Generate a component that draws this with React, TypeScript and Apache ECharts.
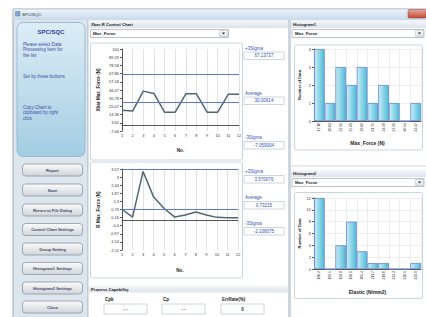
import React, { useEffect, useRef } from 'react';
import * as echarts from 'echarts';

const FONT = '"Liberation Sans", Arial, sans-serif';

const sampleNos = ['1', '2', '3', '4', '5', '6', '7', '8', '9', '10', '11', '12'];
const xbarValues = [20, 19, 45, 42, 17.5, 17.5, 41.5, 41.5, 17.5, 17.5, 41, 41];
const xbarLimits = [67.13737, 30.00914, -7.059004];
const xbarLimitLabels = ['67.13737', '30.00914', '-7.059004'];
const xbarTickLabels = ['-7.06', '3.65', '14.36', '25.07', '35.78', '46.47', '57.18', '67.86', '78.58', '89.29', '100'];
const rValues = [0.75, 0.2, 3.4, 1.6, 0.8, 0.2, 0.35, 0.55, 0.35, 0.18, 0.15, 0.15];
const rLimits = [3.570076, 0.73215, -2.108075];
const rLimitLabels = ['3.570076', '0.73215', '-2.108075'];
const rTickLabels = ['-2.11', '-1.54', '-0.97', '-0.4', '0.16', '0.73', '1.3', '1.87', '2.44', '3', '3.57'];
const hist1Bins = ['17.10', '20.03', '22.96', '25.89', '28.82', '31.75', '34.68', '37.61', '40.54', '43.47'];
const hist1Counts = [4, 1, 3, 2, 3, 1, 2, 1, 0, 1];
const hist2Bins = ['180.2', '186.5', '192.8', '199.1', '205.4', '211.7', '218.0', '224.3', '230.6', '236.9'];
const hist2Counts = [12, 0, 4, 8, 3, 1, 1, 0, 0, 1];
const menuButtons = ['Report', 'Save', 'Return to File Dialog', 'Control Chart Settings', 'Group Setting', 'Histogram1 Settings', 'Histogram2 Settings', 'Close'];
const capabilityLabels = ['Cpk', 'Cp', 'ErrRate(%)'];
const capabilityValues = ['-.--', '-.--', '0'];

const BLUE = '#2f4fc0';

export default function App() {
  const ref = useRef<HTMLDivElement>(null);
  useEffect(() => {
    if (!ref.current) return;
    const chart = echarts.init(ref.current, undefined, { renderer: 'svg' });
    let z2 = 0;
    const vgrad = (a: string, b: string) => new echarts.graphic.LinearGradient(0, 0, 0, 1, [{ offset: 0, color: a }, { offset: 1, color: b }]);
    const rect = (x: number, y: number, w: number, h: number, fill: any, stroke?: string, r = 0, lw = 0.8) => ({
      type: 'rect', silent: true, z: -5, z2: z2++,
      shape: { x, y, width: w, height: h, r },
      style: { fill, stroke: stroke || 'none', lineWidth: stroke ? lw : 0 },
    });
    const txt = (x: number, y: number, text: string, size: number, color: string, weight = 'normal', align = 'left') => ({
      type: 'text', silent: true, z: -4, z2: z2++, x, y,
      style: { text, fontSize: size, fontWeight: weight, fill: color, fontFamily: FONT, align, verticalAlign: 'middle' },
    });
    const tri = (cx: number, cy: number) => ({
      type: 'polygon', silent: true, z: -4, z2: z2++,
      shape: { points: [[cx - 1.6, cy - 1], [cx + 1.6, cy - 1], [cx, cy + 1]] },
      style: { fill: '#333' },
    });
    const headerGrad = () => vgrad('#f4f6f8', '#dde3ea');
    const g: any[] = [];
    // window
    g.push(rect(0, 0, 426, 317, '#ffffff'));
    g.push(rect(13, 9, 416, 312, '#e9eef4', '#7f93a8'));
    g.push(rect(13.5, 9.5, 413, 10.5, vgrad('#edf3f9', '#c9d9ea')));
    g.push(rect(15.5, 11.5, 4.5, 4.5, '#7fa6d4', '#5b7fa8', 0, 0.5));
    g.push(txt(22, 14.5, 'SPC/SQC', 4.3, '#333'));
    g.push(rect(408, 9.5, 18, 8.5, vgrad('#e8a898', '#c24a3a'), '#9a3a30', 1.5, 0.5));
    // left panel
    g.push(rect(14, 20, 74, 297, '#dde5ed'));
    g.push(rect(87.5, 20, 1, 297, '#a8b4c2'));
    g.push(rect(17, 22.5, 68, 134, vgrad('#dcedf6', '#a3cde2'), '#88b2cb', 6));
    g.push(txt(51, 32, 'SPC/SQC', 6, '#2b3f9b', 'bold', 'center'));
    const infoLines: [number, string][] = [[44, 'Please select Data'], [49.5, 'Processing Item for'], [55, 'the list'], [76, 'Set by these buttons'], [107, 'Copy Chart to'], [112.5, 'clipboard by right'], [118, 'click']];
    infoLines.forEach(([y, s]) => g.push(txt(23, y, s, 4.6, '#3a4fa8')));
    const btnY = [170, 190, 210, 229.5, 249, 268.5, 288, 307];
    menuButtons.forEach((b, i) => {
      g.push(rect(22.5, btnY[i] - 6, 60, 12, vgrad('#fbfbfb', '#d0d5da'), '#8d97a3', 3));
      g.push(txt(52.5, btnY[i], b, 4, '#3a4a66', 'bold', 'center'));
    });
    // main area
    g.push(rect(88.5, 20, 338, 297, '#f1f4f7'));
    g.push(rect(89, 21, 199, 296, '#ffffff'));
    g.push(rect(89, 21, 199, 7, headerGrad()));
    g.push(txt(91, 24.5, 'Xbar-R Control Chart', 4.2, '#222', 'bold'));
    g.push(rect(90.5, 29.5, 138, 8, '#fff', '#aab4c0'));
    g.push(txt(93, 33.5, 'Max_Force', 4.3, '#222', 'bold'));
    g.push(rect(219.5, 30.5, 8, 6, vgrad('#fafafa', '#dde1e5'), '#b0b8c2', 0, 0.5));
    g.push(tri(223.5, 33.6));
    g.push(rect(90.5, 43, 152, 117, '#fff', '#b9cadc', 2));
    g.push(rect(90.5, 162, 152, 116, '#fff', '#b9cadc', 2));
    const limitNames = ['+3Sigma', 'Average', '-3Sigma'];
    const xbarLabelY = [48, 93, 137.5];
    const rLabelY = [171, 197, 223];
    limitNames.forEach((n, i) => {
      g.push(txt(245, xbarLabelY[i], n, 4.5, BLUE));
      g.push(rect(244, xbarLabelY[i] + 4, 40, 7.5, '#fff', '#c2ccd8'));
      g.push(txt(264, xbarLabelY[i] + 7.8, xbarLimitLabels[i], 4.5, BLUE, 'normal', 'center'));
      g.push(txt(245, rLabelY[i], n, 4.5, BLUE));
      g.push(rect(244, rLabelY[i] + 4.5, 40, 7.5, '#fff', '#c2ccd8'));
      g.push(txt(264, rLabelY[i] + 8.3, rLimitLabels[i], 4.5, BLUE, 'normal', 'center'));
    });
    // process capability
    g.push(rect(89, 285.5, 199, 7, headerGrad()));
    g.push(txt(91, 289, 'Process Capability', 4.2, '#222', 'bold'));
    const capX = [104, 162, 221];
    capabilityLabels.forEach((c, i) => {
      g.push(txt(capX[i] + 1, 299.5, c, 4.5, '#222', 'bold'));
      g.push(rect(capX[i], 304, 43, 10, '#fff', '#c2ccd8'));
      g.push(txt(capX[i] + 21.5, 309, capabilityValues[i], 4.5, '#333', i === 2 ? 'bold' : 'normal', 'center'));
    });
    // separator + histogram panels
    g.push(rect(288, 20, 3, 297, '#cdd5de'));
    g.push(rect(291, 21, 135, 296, '#ffffff'));
    const histPanel = (top: number, title: string, boxTop: number, boxH: number) => {
      g.push(rect(291, top, 135, 7, headerGrad()));
      g.push(txt(293, top + 3.5, title, 4.2, '#222', 'bold'));
      g.push(rect(292, top + 8.5, 132, 8, '#fff', '#aab4c0'));
      g.push(txt(295, top + 12.5, 'Max_Force', 4.3, '#222', 'bold'));
      g.push(rect(415.5, top + 9.5, 8, 6, vgrad('#fafafa', '#dde1e5'), '#b0b8c2', 0, 0.5));
      g.push(tri(419.5, top + 12.6));
      g.push(rect(294.5, boxTop, 128, boxH, '#fff', '#b9cadc', 2));
    };
    histPanel(21, 'Histogram1', 45, 105);
    g.push(rect(291, 165.5, 135, 1, '#d6dde5'));
    histPanel(170, 'Histogram2', 192.5, 106);

    const xbarInterval = 10.71;
    const xbarMin = xbarLimits[2];
    const rMin = rLimits[2];
    const rInterval = (rLimits[0] - rLimits[2]) / 10;
    const axisLbl = { fontSize: 4, color: '#333', fontFamily: FONT };
    const nameStyle = { fontSize: 4.6, fontWeight: 'bold' as const, color: '#222', fontFamily: FONT };
    const lineX = (gi: number, gap: number) => ({
      type: 'category', gridIndex: gi, data: sampleNos, boundaryGap: false,
      axisLine: { lineStyle: { color: '#555', width: 1 } },
      axisTick: { show: false },
      axisLabel: { ...axisLbl, margin: 2, interval: 0 },
      splitLine: { show: true, interval: 0, lineStyle: { color: '#cfcfcf', width: 0.6 } },
      name: 'No.', nameLocation: 'middle', nameGap: gap, nameTextStyle: nameStyle,
    });
    const limitLine = (vals: number[]) => ({
      silent: true, symbol: ['none', 'none'], label: { show: false },
      lineStyle: { color: '#5a78d8', width: 1, type: 'solid' },
      data: vals.map((v) => ({ yAxis: v })),
    });
    const barStyle = {
      color: new echarts.graphic.LinearGradient(0, 0, 1, 0, [{ offset: 0, color: '#c9eef7' }, { offset: 1, color: '#4fbcd6' }]),
      borderColor: '#6a86d4', borderWidth: 0.8,
    };
    const histX = (gi: number, data: string[], name: string, gap: number) => ({
      type: 'category', gridIndex: gi, data,
      axisLine: { lineStyle: { color: '#555', width: 1 } },
      axisTick: { show: false },
      axisLabel: { ...axisLbl, fontSize: 3.4, rotate: 90, margin: 2, interval: 0 },
      splitLine: { show: true, interval: 0, lineStyle: { color: '#e3e3e3', width: 0.6 } },
      name, nameLocation: 'middle', nameGap: gap, nameTextStyle: { ...nameStyle, fontSize: 5 },
    });
    const histY = (gi: number, max: number, interval: number) => ({
      type: 'value', gridIndex: gi, min: 0, max, interval,
      axisLine: { show: true, lineStyle: { color: '#555', width: 1 } },
      axisTick: { show: true, length: 2, lineStyle: { color: '#555' } },
      axisLabel: { ...axisLbl, margin: 3 },
      splitLine: { show: true, lineStyle: { color: '#e3e3e3', width: 0.6 } },
      name: 'Number of Data', nameLocation: 'middle', nameGap: 13, nameTextStyle: { ...nameStyle, fontSize: 4 },
    });

    chart.setOption({
      animation: false,
      backgroundColor: '#ffffff',
      graphic: { elements: g },
      grid: [
        { left: 122, top: 49, width: 117, height: 82 },
        { left: 122, top: 169, width: 116, height: 81 },
        { left: 314, top: 49, width: 107, height: 72 },
        { left: 314, top: 198, width: 107, height: 71 },
      ],
      xAxis: [
        lineX(0, 17),
        lineX(1, 18),
        histX(2, hist1Bins, 'Max_Force (N)', 19),
        histX(3, hist2Bins, 'Elastic (N/mm2)', 20),
      ],
      yAxis: [
        {
          type: 'value', gridIndex: 0, min: xbarMin, max: xbarMin + 10 * xbarInterval, interval: xbarInterval,
          axisLine: { show: true, lineStyle: { color: '#555', width: 1 } },
          axisTick: { show: true, length: 2, lineStyle: { color: '#555' } },
          axisLabel: { ...axisLbl, margin: 3, formatter: (v: number) => xbarTickLabels[Math.round((v - xbarMin) / xbarInterval)] ?? '' },
          splitLine: { show: false },
          name: 'Xbar Max_Force (N)', nameLocation: 'middle', nameGap: 21, nameTextStyle: nameStyle,
        },
        {
          type: 'value', gridIndex: 1, min: rMin, max: rLimits[0], interval: rInterval,
          axisLine: { show: true, lineStyle: { color: '#555', width: 1 } },
          axisTick: { show: true, length: 2, lineStyle: { color: '#555' } },
          axisLabel: { ...axisLbl, margin: 3, formatter: (v: number) => rTickLabels[Math.round((v - rMin) / rInterval)] ?? '' },
          splitLine: { show: false },
          name: 'R Max_Force (N)', nameLocation: 'middle', nameGap: 21, nameTextStyle: nameStyle,
        },
        histY(2, 4, 1),
        histY(3, 12, 2),
      ],
      series: [
        {
          type: 'line', xAxisIndex: 0, yAxisIndex: 0, data: xbarValues, symbol: 'none',
          lineStyle: { color: '#4f6870', width: 1.5 }, markLine: limitLine(xbarLimits), z: 3,
        },
        {
          type: 'line', xAxisIndex: 1, yAxisIndex: 1, data: rValues, symbol: 'none',
          lineStyle: { color: '#4f6870', width: 1.5 }, markLine: limitLine(rLimits), z: 3,
        },
        { type: 'bar', xAxisIndex: 2, yAxisIndex: 2, data: hist1Counts, barCategoryGap: '0%', itemStyle: barStyle },
        { type: 'bar', xAxisIndex: 3, yAxisIndex: 3, data: hist2Counts, barCategoryGap: '0%', itemStyle: barStyle },
      ],
    });
    return () => chart.dispose();
  }, []);
  return <div ref={ref} style={{ position: 'fixed', left: 0, top: 0, width: 426, height: 317 }} />;
}
